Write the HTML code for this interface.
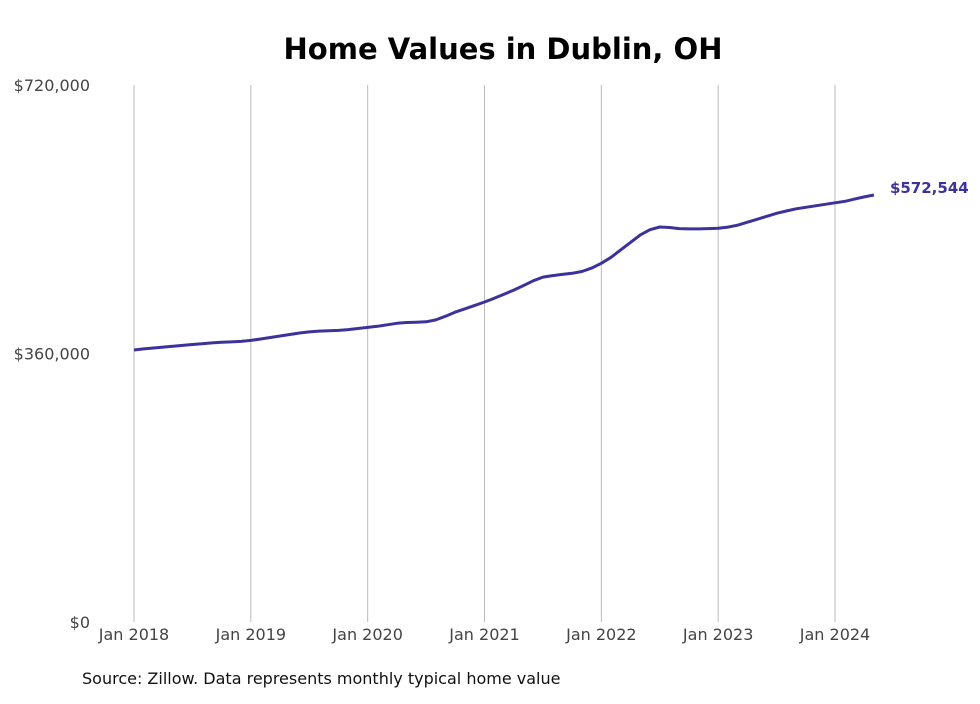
<!DOCTYPE html>
<html><head><meta charset="utf-8"><style>
body{margin:0;background:#fff;width:980px;height:699px;overflow:hidden;font-family:"Liberation Sans","DejaVu Sans",sans-serif}
</style></head><body>
<svg id="chart" width="980" height="699" xmlns="http://www.w3.org/2000/svg">
<text x="503" y="59" text-anchor="middle" font-family="DejaVu Sans, sans-serif" font-weight="bold" font-size="29" fill="#000">Home Values in Dublin, OH</text>
<g id="grid"></g><g id="xticks"></g><g id="yticks"></g>
<path id="line" fill="none" stroke="#3b3399" stroke-width="3" stroke-linejoin="round"/>
<text id="endlabel" font-family="DejaVu Sans, sans-serif" font-weight="bold" font-size="15" fill="#3b3399"></text>
<text x="82" y="684" font-family="DejaVu Sans, sans-serif" font-size="16" fill="#111">Source: Zillow. Data represents monthly typical home value</text>
</svg>
<script>
const yearLabels=["Jan 2018","Jan 2019","Jan 2020","Jan 2021","Jan 2022","Jan 2023","Jan 2024"];
const yTickValues=[0,360000,720000];
const yTickLabels=["$0","$360,000","$720,000"];
const values2018=[364.7,366.2,367.4,368.6,369.6,370.8,372,373.2,374.2,375,375.6,376.2];
const values2019=[377.5,379.5,381.5,383.5,385.5,387.5,389,390,390.5,391,392,393.5];
const values2020=[395,396.5,398.5,400.5,401.5,402,402.5,405,410,415.5,420,424.5];
const values2021=[429,434,439.5,445,451,457.5,462.5,464.5,466,467.5,470,474.5];
const values2022=[481,489,499,509,519,526,529.6,529,527.5,527,527,527.5];
const values2023=[528,529.5,532,536,540,544,548,551,554,556,558,560];
const values2024=[562,564,567,570,572.544];
const endLabel="$572,544";
const values=[].concat(values2018,values2019,values2020,values2021,values2022,values2023,values2024).map(v=>v*1000);
const NS="http://www.w3.org/2000/svg";
const x=m=>134+m*(701/72);
const y=v=>622-v/720000*537;
const grid=document.getElementById('grid'),xt=document.getElementById('xticks'),yt=document.getElementById('yticks');
yearLabels.forEach((l,i)=>{
 const ln=document.createElementNS(NS,'line');
 
 
 ln.setAttribute('x1',x(i*12));ln.setAttribute('x2',x(i*12));ln.setAttribute('y1',85);ln.setAttribute('y2',622);
 ln.setAttribute('stroke','#bbb');ln.setAttribute('stroke-width','1');grid.appendChild(ln);
 const t=document.createElementNS(NS,'text');
 
 
 t.setAttribute('x',x(i*12));t.setAttribute('y',640);t.setAttribute('text-anchor','middle');
 t.setAttribute('font-family','DejaVu Sans, sans-serif');t.setAttribute('font-size','16');t.setAttribute('fill','#444');
 t.textContent=l;xt.appendChild(t);
});
yTickValues.forEach((v,i)=>{
 const t=document.createElementNS(NS,'text');
 
 
 t.setAttribute('x',90);t.setAttribute('y',y(v)+6);t.setAttribute('text-anchor','end');
 t.setAttribute('font-family','DejaVu Sans, sans-serif');t.setAttribute('font-size','16');t.setAttribute('fill','#444');
 t.textContent=yTickLabels[i];yt.appendChild(t);
});
document.getElementById('line').setAttribute('d',values.map((v,i)=>(i?'L':'M')+x(i).toFixed(1)+','+y(v).toFixed(1)).join(''));
const el=document.getElementById('endlabel');const n=values.length-1;
el.setAttribute('x',x(n)+16);el.setAttribute('y',y(values[n])-2);el.textContent=endLabel;
</script>
</body></html>
